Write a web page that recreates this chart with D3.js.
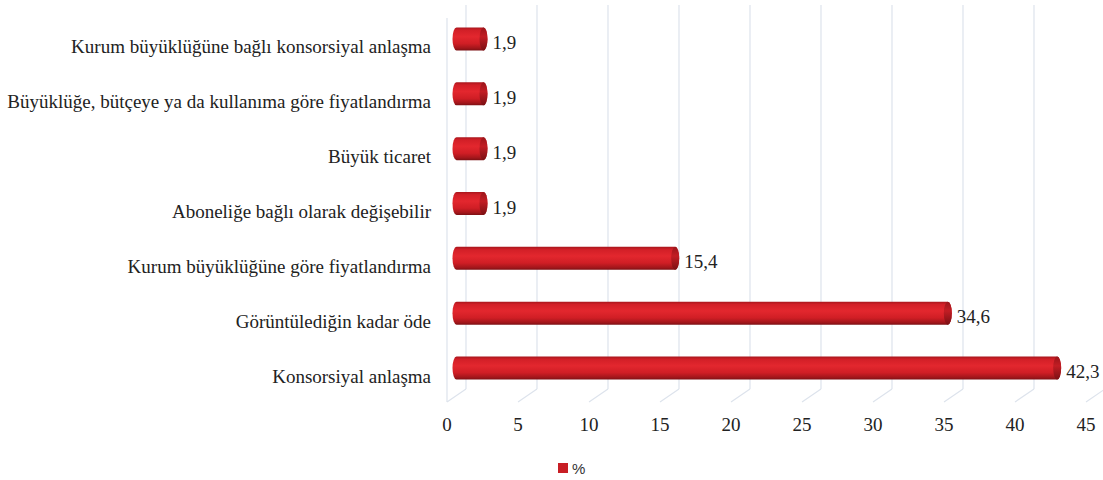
<!DOCTYPE html>
<html><head><meta charset="utf-8">
<script src="https://cdn.jsdelivr.net/npm/d3@7"></script>
<style>body{margin:0;background:#fff}svg{display:block}</style>
</head><body>
<svg id="c" width="1103" height="480"></svg>
<script>
const categories = [
  "Kurum büyüklüğüne bağlı konsorsiyal anlaşma",
  "Büyüklüğe, bütçeye ya da kullanıma göre fiyatlandırma",
  "Büyük ticaret",
  "Aboneliğe bağlı olarak değişebilir",
  "Kurum büyüklüğüne göre fiyatlandırma",
  "Görüntülediğin kadar öde",
  "Konsorsiyal anlaşma"
];
const values = [1.9, 1.9, 1.9, 1.9, 15.4, 34.6, 42.3];
const valueLabels = ["1,9","1,9","1,9","1,9","15,4","34,6","42,3"];
const xTicks = [0,5,10,15,20,25,30,35,40,45];
const seriesName = "%";

const svg = d3.select("#c");
const serif = "'Liberation Serif','Times New Roman',serif";
const dx = 19, dy = -13;
const x = d3.scaleLinear().domain([0,45]).range([447, 1086]);
const y = d3.scaleBand().domain(categories).range([18, 402]);

const defs = svg.append("defs");
const g1 = defs.append("linearGradient").attr("id","cyl").attr("x1",0).attr("y1",0).attr("x2",0).attr("y2",1);
[[0,"#a8161c"],[0.12,"#d21f27"],[0.4,"#e3272e"],[0.7,"#d01e25"],[0.9,"#a3161b"],[1,"#7c1014"]]
  .forEach(([o,c])=>g1.append("stop").attr("offset",o).attr("stop-color",c));
const g2 = defs.append("linearGradient").attr("id","cap").attr("x1",0).attr("y1",0).attr("x2",0).attr("y2",1);
[[0,"#9a151a"],[0.4,"#c21d24"],[1,"#7a1014"]]
  .forEach(([o,c])=>g2.append("stop").attr("offset",o).attr("stop-color",c));

const grid = "#dde3ec";
xTicks.forEach(t=>{
  svg.append("line").attr("x1",x(t)+dx).attr("x2",x(t)+dx).attr("y1",5).attr("y2",402+dy)
    .attr("stroke",grid).attr("stroke-width",1.2);
  svg.append("line").attr("x1",x(t)).attr("y1",402).attr("x2",x(t)+dx).attr("y2",402+dy)
    .attr("stroke",grid).attr("stroke-width",1.2);
});
svg.append("line").attr("x1",x(0)).attr("x2",x(0)).attr("y1",18).attr("y2",402)
  .attr("stroke",grid).attr("stroke-width",1.2);

svg.append("g").selectAll("text").data(xTicks).join("text")
  .attr("x",d=>x(d)).attr("y",431).attr("text-anchor","middle")
  .attr("font-family",serif).attr("font-size",19).attr("fill","#222").text(d=>d);

svg.append("g").selectAll("text").data(categories).join("text")
  .attr("x",431).attr("y",d=>y(d)+y.bandwidth()/2+8).attr("text-anchor","end")
  .attr("font-family",serif).attr("font-size",19).attr("fill","#222").text(d=>d);

const h = 23, rx = 4;
const bars = svg.append("g");
categories.forEach((c,i)=>{
  const cy = y(c)+y.bandwidth()/2 + dy/2;
  const x0 = x(0)+dx/2, x1 = x(values[i])+dx/2;
  const top = cy-h/2, bot = cy+h/2;
  bars.append("path")
    .attr("d",`M${x0},${top} L${x1},${top} A${rx},${h/2} 0 0 1 ${x1},${bot} L${x0},${bot} A${rx},${h/2} 0 0 1 ${x0},${top} Z`)
    .attr("fill","url(#cyl)");
  bars.append("ellipse").attr("cx",x1).attr("cy",cy).attr("rx",rx).attr("ry",h/2)
    .attr("fill","url(#cap)");
  bars.append("text").attr("x",x1+rx+5).attr("y",cy+10)
    .attr("font-family",serif).attr("font-size",19).attr("fill","#222").text(valueLabels[i]);
});

svg.append("rect").attr("x",558).attr("y",463).attr("width",10).attr("height",10).attr("fill","#c81e25");
svg.append("text").attr("x",572).attr("y",474).attr("font-family","'Liberation Sans',Arial,sans-serif")
  .attr("font-size",15).attr("fill","#333").text(seriesName);
</script>
</body></html>
